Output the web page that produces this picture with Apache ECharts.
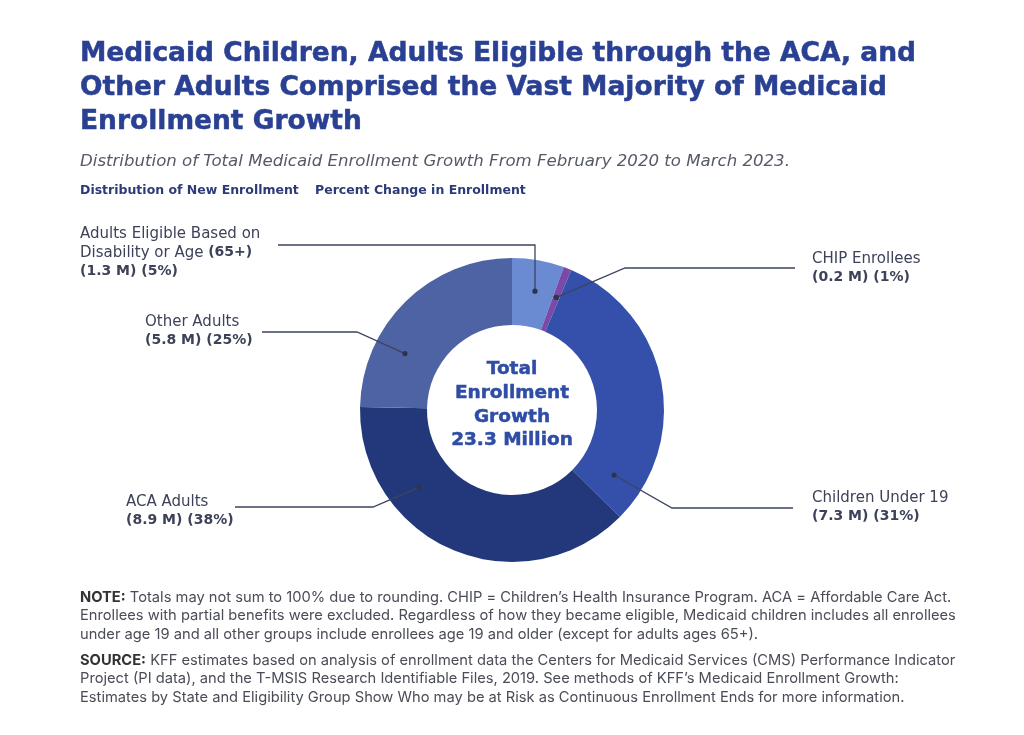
<!DOCTYPE html>
<html><head><meta charset="utf-8">
<script src="https://cdn.jsdelivr.net/npm/echarts@6/dist/echarts.min.js"></script>
<style>html,body{margin:0;padding:0;background:#fff}#c{width:1024px;height:735px}</style>
</head><body><div id="c"></div>
<script>
// ---- data ----
const categories = ['Adults Eligible Based on Disability or Age (65+)', 'CHIP Enrollees', 'Children Under 19', 'ACA Adults', 'Other Adults'];
const values = [1.3, 0.2, 7.3, 8.9, 5.8];          // millions
const percents = [5, 1, 31, 38, 25];
const labelNames = ['Adults Eligible Based on\nDisability or Age {b|(65+)}', 'CHIP Enrollees', 'Children Under 19', 'ACA Adults', 'Other Adults'];
const totalLabel = '23.3 Million';

// ---- styling ----
const colors = ['#6a8ad2', '#7a4aa6', '#3550ab', '#22387a', '#4e63a3'];
const CX = 512, CY = 410, R_IN = 85, R_OUT = 152;
const anchorFrac = [0.55, 0.5, 0.89, 0.7, 0.3];
const anchorR = 121;
const labelPos = [
  {x: 80, y: 225},
  {x: 812, y: 250},
  {x: 812, y: 489},
  {x: 126, y: 493},
  {x: 145, y: 313}
];
const elbows = [
  {type: 'vert', y: 245, endX: 278},
  {type: 'pt', x: 625, y: 268, endX: 795},
  {type: 'pt', x: 672, y: 508, endX: 793},
  {type: 'pt', x: 373, y: 507, endX: 235},
  {type: 'pt', x: 357, y: 332, endX: 262}
];

const total = values.reduce((a, b) => a + b, 0);
function anchor(i) {
  let cum = 0;
  for (let k = 0; k < i; k++) cum += values[k];
  const frac = (cum + values[i] * anchorFrac[i]) / total;
  const ang = frac * 2 * Math.PI;
  return [CX + anchorR * Math.sin(ang), CY - anchorR * Math.cos(ang)];
}
function linePts(i) {
  const a = anchor(i), e = elbows[i];
  if (e.type === 'vert') return [a, [a[0], e.y], [e.endX, e.y]];
  return [a, [e.x, e.y], [e.endX, e.y]];
}

const chart = echarts.init(document.getElementById('c'), null, {renderer: 'canvas'});
const F = '"DejaVu Sans", sans-serif';
const FN = 'Inter, "Noto Sans", sans-serif';
const TITLE_C = '#2a4193';

const option = {
  backgroundColor: '#fff',
  animation: false,
  title: [
    {text: 'Medicaid Children, Adults Eligible through the ACA, and\nOther Adults Comprised the Vast Majority of Medicaid\nEnrollment Growth',
     left: 80, top: 37, padding: 0,
     textStyle: {fontFamily: F, fontWeight: 'bold', fontSize: 26.5, lineHeight: 34, color: TITLE_C,
       textBorderColor: TITLE_C, textBorderWidth: 0.5}},
    {text: 'Distribution of Total Medicaid Enrollment Growth From February 2020 to March 2023.',
     left: 80, top: 153, padding: 0,
     textStyle: {fontFamily: F, fontStyle: 'italic', fontWeight: 'normal', fontSize: 16.6, color: '#555a66'}},
    {text: 'Distribution of New Enrollment', left: 80, top: 184, padding: 0,
     textStyle: {fontFamily: F, fontWeight: 'bold', fontSize: 12.5, color: '#2c3b78'}},
    {text: 'Percent Change in Enrollment', left: 315, top: 184, padding: 0,
     textStyle: {fontFamily: F, fontWeight: 'bold', fontSize: 12.5, color: '#2c3b78'}},
    {text: '{b|NOTE:} Totals may not sum to 100% due to rounding. CHIP = Children\u2019s Health Insurance Program. ACA = Affordable Care Act.\nEnrollees with partial benefits were excluded. Regardless of how they became eligible, Medicaid children includes all enrollees\nunder age 19 and all other groups include enrollees age 19 and older (except for adults ages 65+).',
     left: 80, top: 588, padding: 0,
     textStyle: {fontFamily: FN, fontWeight: 'normal', fontSize: 14.7, lineHeight: 18.5, color: '#4a4d57',
       rich: {b: {fontFamily: FN, fontWeight: 'bold', fontSize: 14.7, lineHeight: 18.5, color: '#333'}}}},
    {text: '{b|SOURCE:} KFF estimates based on analysis of enrollment data the Centers for Medicaid Services (CMS) Performance Indicator\nProject (PI data), and the T-MSIS Research Identifiable Files, 2019. See methods of KFF\u2019s Medicaid Enrollment Growth:\nEstimates by State and Eligibility Group Show Who may be at Risk as Continuous Enrollment Ends for more information.',
     left: 80, top: 651, padding: 0,
     textStyle: {fontFamily: FN, fontWeight: 'normal', fontSize: 14.7, lineHeight: 18.5, color: '#4a4d57',
       rich: {b: {fontFamily: FN, fontWeight: 'bold', fontSize: 14.7, lineHeight: 18.5, color: '#333'}}}}
  ],
  series: [{
    type: 'pie',
    center: [CX, CY],
    radius: [R_IN, R_OUT],
    startAngle: 90,
    clockwise: true,
    silent: true,
    itemStyle: {borderWidth: 0},
    data: categories.map((c, i) => ({name: c, value: values[i], itemStyle: {color: colors[i]}})),
    label: {
      show: true,
      position: 'outside',
      formatter: p => labelNames[p.dataIndex] + '\n{b|(' + values[p.dataIndex].toFixed(1) + ' M) (' + percents[p.dataIndex] + '%)}',
      fontFamily: F, fontSize: 15, lineHeight: 18.5, color: '#3d4258', align: 'left',
      rich: {b: {fontFamily: F, fontWeight: 'bold', fontSize: 14, lineHeight: 18.5, color: '#3d4258'}}
    },
    labelLine: {show: false},
    labelLayout: function (p) {
      const lp = labelPos[p.dataIndex];
      return {x: lp.x, y: lp.y, align: 'left', verticalAlign: 'top'};
    }
  }],
  graphic: [
    {type: 'text', x: CX, y: CY - 5, z: 10,
     style: {text: 'Total\nEnrollment\nGrowth\n' + totalLabel, align: 'center', verticalAlign: 'middle',
       fontFamily: F, fontWeight: 'bold', fontSize: 18.5, lineHeight: 23.7, fill: '#2f4da6',
       stroke: '#2f4da6', lineWidth: 0.5}}
  ].concat(categories.map((c, i) => ({
    type: 'polyline', z: 20, shape: {points: linePts(i)}, style: {stroke: '#3b4460', lineWidth: 1.3, fill: null}
  }))).concat(categories.map((c, i) => {
    const a = anchor(i);
    return {type: 'circle', z: 21, shape: {cx: a[0], cy: a[1], r: 2.6}, style: {fill: '#2b3550'}};
  }))
};
chart.setOption(option);
</script></body></html>
